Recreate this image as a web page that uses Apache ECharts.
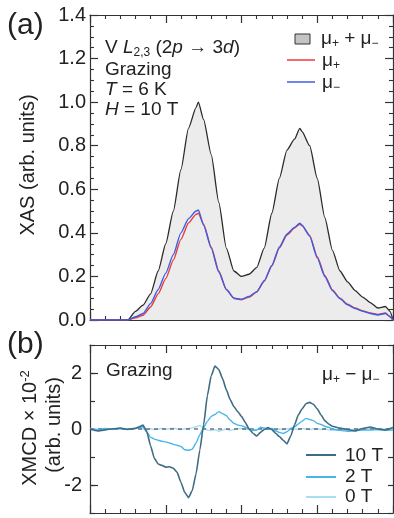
<!DOCTYPE html>
<html><head><meta charset="utf-8">
<script src="https://cdn.jsdelivr.net/npm/echarts@6/dist/echarts.min.js"></script>
<style>html,body{margin:0;padding:0;background:#fff}#c{width:394px;height:518px}</style>
</head><body><div id="c"></div>
<script>
// ---- XAS panel (a) ----
const energy = [510,510.5,511,511.5,512,512.5,513,513.5,514,514.5,515,515.5,516,516.5,517,517.15,517.5,518,518.5,519,519.5,520,520.5,521,521.5,522,522.5,523,523.5,523.85,524,524.5,525,525.5,526,526.5,527,527.5,528,528.5,529,529.5,529.8,530];
const xasSum = [0,0,0,0,0,0,0.04,0.068,0.12,0.225,0.35,0.5,0.69,0.88,0.975,1.0,0.92,0.76,0.54,0.33,0.225,0.2,0.21,0.24,0.33,0.49,0.65,0.78,0.83,0.88,0.865,0.8,0.65,0.47,0.32,0.225,0.175,0.135,0.105,0.08,0.055,0.062,0.04,0];
const muPlus = [0,0,0,0,0,0,0.01,0.022,0.06,0.12,0.19,0.275,0.37,0.445,0.485,0.49,0.44,0.335,0.225,0.14,0.1,0.093,0.105,0.128,0.178,0.248,0.33,0.39,0.422,0.44,0.432,0.388,0.29,0.205,0.138,0.1,0.073,0.055,0.042,0.032,0.025,0.032,0.015,0];
const muMinus = [0,0,0,0,0,0,0.015,0.03,0.075,0.14,0.215,0.3,0.4,0.465,0.5,0.505,0.435,0.33,0.22,0.14,0.1,0.095,0.108,0.13,0.18,0.25,0.335,0.395,0.425,0.444,0.435,0.385,0.285,0.2,0.135,0.098,0.07,0.052,0.04,0.03,0.023,0.03,0.015,0];

// ---- XMCD panel (b) ----
const xmcdEnergy = [510,510.5,511,511.5,512,512.5,513,513.25,513.5,513.75,514,514.25,514.5,514.75,515,515.25,515.5,515.75,516,516.25,516.5,516.75,517,517.25,517.5,517.75,518,518.25,518.5,518.75,519,519.25,519.5,519.75,520,520.25,520.5,520.75,521,521.25,521.5,521.75,522,522.25,522.5,522.75,523,523.25,523.5,523.75,524,524.25,524.5,524.75,525,525.25,525.5,525.75,526,526.5,527,527.5,528,528.5,529,529.5,530];
const xmcd10T = [0,-0.07,-0.03,0.01,0.03,-0.01,0.02,0.08,0.14,-0.1,-0.6,-1.05,-1.25,-1.3,-1.36,-1.35,-1.4,-1.55,-1.9,-2.26,-2.45,-2.2,-1.6,-0.75,0.15,1.2,1.9,2.25,2.12,1.8,1.4,1.05,0.8,0.62,0.45,0.24,0.0,-0.15,-0.25,-0.12,-0.02,0.05,-0.02,-0.15,-0.27,-0.4,-0.53,-0.25,0.15,0.5,0.72,0.9,0.95,0.88,0.72,0.5,0.3,0.18,0.1,0.03,-0.02,-0.07,0.02,0.07,0.0,-0.03,0.05];
const xmcd2T = [0,-0.03,0.02,0,0.02,-0.02,0.03,0.06,0.08,-0.1,-0.3,-0.36,-0.4,-0.44,-0.46,-0.5,-0.55,-0.58,-0.62,-0.74,-0.76,-0.72,-0.5,-0.2,0.05,0.28,0.45,0.52,0.62,0.55,0.48,0.32,0.2,0.14,0.12,0.06,0.0,-0.05,-0.04,0.06,0.04,0.0,0.02,-0.06,-0.12,-0.16,-0.1,0.02,0.08,0.18,0.28,0.38,0.34,0.3,0.2,0.16,0.1,0.06,0.0,-0.05,-0.08,-0.06,-0.04,-0.04,-0.02,-0.05,-0.03];
const xmcd0T = [0.02,-0.02,0.01,-0.02,0.02,0.0,0.03,0.02,0.0,-0.03,0.01,-0.02,0.0,0.02,-0.01,0.01,0.03,0.0,-0.02,0.01,0.02,0.04,0.08,0.12,0.05,-0.04,-0.06,-0.02,-0.08,-0.04,0.0,-0.05,-0.02,0.01,0.02,-0.01,0.0,-0.03,-0.02,0.02,0.0,-0.02,0.01,-0.03,0.0,-0.02,0.01,0.02,0.0,-0.01,0.02,0.0,-0.02,0.01,0.0,-0.02,0.01,-0.03,-0.05,-0.03,-0.04,0.0,-0.02,0.01,-0.03,0.0,-0.02];

const FONT = 'Liberation Sans, Arial, Helvetica, sans-serif';
const AX = '#333';
const pairs = (xs, ys) => xs.map((x, i) => [x, ys[i]]);

function xAx(grid, pos) {
  return {
    type: 'value', gridIndex: grid, position: pos, min: 510, max: 530, interval: 5,
    axisLine: { show: true, onZero: false, lineStyle: { color: AX, width: 1.2 } },
    axisTick: { show: true, inside: true, length: 8, lineStyle: { color: AX, width: 1.2 } },
    minorTick: { show: true, splitNumber: 5, length: 4, lineStyle: { color: AX, width: 1.1 } },
    axisLabel: { show: false }, splitLine: { show: false }
  };
}
const sub = { fontSize: 12, fontFamily: FONT, lineHeight: 10, verticalAlign: 'bottom', fill: '#222', color: '#222' };

const option = {
  animation: false,
  backgroundColor: '#fff',
  grid: [
    { left: 90, top: 15, width: 303, height: 305 },
    { left: 90, top: 345, width: 303, height: 168 }
  ],
  xAxis: [xAx(0, 'bottom'), xAx(0, 'top'), xAx(1, 'bottom'), xAx(1, 'top')],
  yAxis: [
    { type: 'value', gridIndex: 0, position: 'left', min: 0, max: 1.4, interval: 0.2,
      axisLine: { show: true, onZero: false, lineStyle: { color: AX, width: 1.2 } },
      axisTick: { show: true, inside: true, length: 8, lineStyle: { color: AX, width: 1.2 } },
      minorTick: { show: true, splitNumber: 4, length: 4, lineStyle: { color: AX, width: 1.1 } },
      axisLabel: { show: true, margin: 4, fontSize: 20, fontFamily: FONT, color: '#222', formatter: v => v.toFixed(1) },
      splitLine: { show: false } },
    { type: 'value', gridIndex: 0, position: 'right', min: 0, max: 1.4, interval: 0.2,
      axisLine: { show: true, onZero: false, lineStyle: { color: AX, width: 1.2 } },
      axisTick: { show: true, inside: true, length: 8, lineStyle: { color: AX, width: 1.2 } },
      minorTick: { show: true, splitNumber: 4, length: 4, lineStyle: { color: AX, width: 1.1 } },
      axisLabel: { show: false }, splitLine: { show: false } },
    { type: 'value', gridIndex: 1, position: 'left', min: -3, max: 3, interval: 1,
      axisLine: { show: true, onZero: false, lineStyle: { color: AX, width: 1.2 } },
      axisTick: { show: true, inside: true, length: 5, lineStyle: { color: AX, width: 1.2 } },
      axisLabel: { show: true, margin: 8, fontSize: 20, fontFamily: FONT, color: '#222',
        formatter: v => (Math.abs(v) % 2 === 0 ? String(v) : '') },
      splitLine: { show: false } },
    { type: 'value', gridIndex: 1, position: 'left', min: -3, max: 3, interval: 1,
      axisLine: { show: false },
      axisTick: { show: true, inside: true, length: 8, customValues: [-2, 0, 2], lineStyle: { color: AX, width: 1.2 } },
      axisLabel: { show: false }, splitLine: { show: false } },
    { type: 'value', gridIndex: 1, position: 'right', min: -3, max: 3, interval: 1,
      axisLine: { show: true, onZero: false, lineStyle: { color: AX, width: 1.2 } },
      axisTick: { show: true, inside: true, length: 5, lineStyle: { color: AX, width: 1.2 } },
      axisLabel: { show: false }, splitLine: { show: false } }
  ],
  series: [
    { name: 'sum', type: 'line', xAxisIndex: 0, yAxisIndex: 0, data: pairs(energy, xasSum), showSymbol: false, smooth: 0.2, smoothMonotone: 'x',
      lineStyle: { color: '#2a2a2a', width: 1.3 }, areaStyle: { color: '#ececec', opacity: 1, origin: 'start' }, z: 2 },
    { name: 'mu+', type: 'line', xAxisIndex: 0, yAxisIndex: 0, data: pairs(energy, muPlus), showSymbol: false, smooth: 0.2, smoothMonotone: 'x',
      lineStyle: { color: '#ec3b3b', width: 1.4 }, z: 3 },
    { name: 'mu-', type: 'line', xAxisIndex: 0, yAxisIndex: 0, data: pairs(energy, muMinus), showSymbol: false, smooth: 0.2, smoothMonotone: 'x',
      lineStyle: { color: '#3c5ee6', width: 1.4 }, z: 4 },
    { name: '0 T', type: 'line', xAxisIndex: 2, yAxisIndex: 2, data: pairs(xmcdEnergy, xmcd0T), showSymbol: false,
      lineStyle: { color: '#a9def7', width: 1.4 }, z: 2 },
    { name: 'zero', type: 'line', xAxisIndex: 2, yAxisIndex: 2, data: [[510, 0], [530, 0]], showSymbol: false,
      lineStyle: { color: '#333', width: 1, type: [4, 4] }, z: 3 },
    { name: '2 T', type: 'line', xAxisIndex: 2, yAxisIndex: 2, data: pairs(xmcdEnergy, xmcd2T), showSymbol: false, smooth: 0.15, smoothMonotone: 'x',
      lineStyle: { color: '#47b5ea', width: 1.4 }, z: 4 },
    { name: '10 T', type: 'line', xAxisIndex: 2, yAxisIndex: 2, data: pairs(xmcdEnergy, xmcd10T), showSymbol: false, smooth: 0.15, smoothMonotone: 'x',
      lineStyle: { color: '#3e6c84', width: 1.6 }, z: 5 }
  ],
  graphic: [
    // panel labels
    { type: 'text', x: 7, y: 26, style: { text: '(a)', fontSize: 30, fontFamily: FONT, fill: '#222', verticalAlign: 'middle', textVerticalAlign: 'middle' } },
    { type: 'text', x: 7, y: 345, style: { text: '(b)', fontSize: 30, fontFamily: FONT, fill: '#222', verticalAlign: 'middle', textVerticalAlign: 'middle' } },
    // y titles
    { type: 'text', x: 28, y: 165, rotation: Math.PI / 2, style: { text: 'XAS (arb. units)', fontSize: 20, fontFamily: FONT, fill: '#222', align: 'center', textAlign: 'center', verticalAlign: 'middle', textVerticalAlign: 'middle' } },
    { type: 'text', x: 30, y: 428, rotation: Math.PI / 2, style: {
        text: '{n|XMCD × 10}{sp|-2}', fontFamily: FONT, fill: '#222', align: 'center', textAlign: 'center', verticalAlign: 'middle', textVerticalAlign: 'middle',
        rich: { n: { fontSize: 20, fontFamily: FONT, lineHeight: 22, fill: '#222' }, sp: { fontSize: 13, fontFamily: FONT, lineHeight: 10, verticalAlign: 'top', fill: '#222' } } } },
    { type: 'text', x: 54, y: 425, rotation: Math.PI / 2, style: { text: '(arb. units)', fontSize: 20, fontFamily: FONT, fill: '#222', align: 'center', textAlign: 'center', verticalAlign: 'middle', textVerticalAlign: 'middle' } },
    // annotation (a)
    { type: 'text', x: 105, y: 48, style: {
        text: '{n|V }{i|L}{s|2,3}{n| (2}{i|p}{n| → 3}{i|d}{n|)}', verticalAlign: 'middle', textVerticalAlign: 'middle',
        rich: { n: { fontSize: 19, fontFamily: FONT, lineHeight: 22, fill: '#222' }, i: { fontSize: 19, fontFamily: FONT, fontStyle: 'italic', lineHeight: 22, fill: '#222' }, s: sub } } },
    { type: 'text', x: 105, y: 70, style: { text: 'Grazing', fontSize: 19, fontFamily: FONT, fill: '#222', verticalAlign: 'middle', textVerticalAlign: 'middle' } },
    { type: 'text', x: 105, y: 90, style: {
        text: '{i|T}{n| = 6 K}', verticalAlign: 'middle', textVerticalAlign: 'middle',
        rich: { n: { fontSize: 19, fontFamily: FONT, fill: '#222' }, i: { fontSize: 19, fontFamily: FONT, fontStyle: 'italic', fill: '#222' } } } },
    { type: 'text', x: 105, y: 110, style: {
        text: '{i|H}{n| = 10 T}', verticalAlign: 'middle', textVerticalAlign: 'middle',
        rich: { n: { fontSize: 19, fontFamily: FONT, fill: '#222' }, i: { fontSize: 19, fontFamily: FONT, fontStyle: 'italic', fill: '#222' } } } },
    // legend (a)
    { type: 'rect', shape: { x: 295, y: 34, width: 15, height: 10 }, style: { fill: '#c4c4c4', stroke: '#333', lineWidth: 1 } },
    { type: 'text', x: 321, y: 39, style: {
        text: '{n|μ}{s|+}{n| + μ}{s|−}', verticalAlign: 'middle', textVerticalAlign: 'middle',
        rich: { n: { fontSize: 19, fontFamily: FONT, lineHeight: 22, fill: '#222' }, s: sub } } },
    { type: 'line', shape: { x1: 287, y1: 60, x2: 315, y2: 60 }, style: { stroke: '#ec3b3b', lineWidth: 1.5 } },
    { type: 'text', x: 322, y: 61, style: {
        text: '{n|μ}{s|+}', verticalAlign: 'middle', textVerticalAlign: 'middle',
        rich: { n: { fontSize: 19, fontFamily: FONT, lineHeight: 22, fill: '#222' }, s: sub } } },
    { type: 'line', shape: { x1: 287, y1: 82, x2: 315, y2: 82 }, style: { stroke: '#3c5ee6', lineWidth: 1.5 } },
    { type: 'text', x: 322, y: 83, style: {
        text: '{n|μ}{s|−}', verticalAlign: 'middle', textVerticalAlign: 'middle',
        rich: { n: { fontSize: 19, fontFamily: FONT, lineHeight: 22, fill: '#222' }, s: sub } } },
    // annotations (b)
    { type: 'text', x: 106, y: 371, style: { text: 'Grazing', fontSize: 19, fontFamily: FONT, fill: '#222', verticalAlign: 'middle', textVerticalAlign: 'middle' } },
    { type: 'text', x: 322, y: 375, style: {
        text: '{n|μ}{s|+}{n| − μ}{s|−}', verticalAlign: 'middle', textVerticalAlign: 'middle',
        rich: { n: { fontSize: 19, fontFamily: FONT, lineHeight: 22, fill: '#222' }, s: sub } } },
    // legend (b)
    { type: 'line', shape: { x1: 306, y1: 455, x2: 336, y2: 455 }, style: { stroke: '#3e6c84', lineWidth: 2 } },
    { type: 'text', x: 345, y: 456, style: { text: '10 T', fontSize: 19, fontFamily: FONT, fill: '#222', verticalAlign: 'middle', textVerticalAlign: 'middle' } },
    { type: 'line', shape: { x1: 306, y1: 477, x2: 336, y2: 477 }, style: { stroke: '#47b5ea', lineWidth: 2 } },
    { type: 'text', x: 345, y: 477, style: { text: '2 T', fontSize: 19, fontFamily: FONT, fill: '#222', verticalAlign: 'middle', textVerticalAlign: 'middle' } },
    { type: 'line', shape: { x1: 306, y1: 497, x2: 336, y2: 497 }, style: { stroke: '#a9def7', lineWidth: 2 } },
    { type: 'text', x: 345, y: 497, style: { text: '0 T', fontSize: 19, fontFamily: FONT, fill: '#222', verticalAlign: 'middle', textVerticalAlign: 'middle' } }
  ]
};
const chart = echarts.init(document.getElementById('c'), null, { renderer: 'canvas' });
chart.setOption(option);
</script></body></html>
